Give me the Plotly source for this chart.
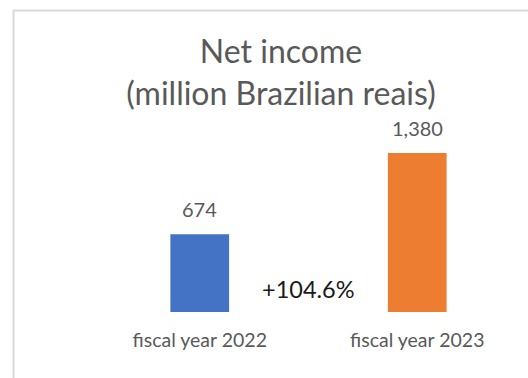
import plotly.graph_objects as go

# Net income by fiscal year (million BRL)
categories = ["fiscal year 2022", "fiscal year 2023"]
net_income = [674, 1380]
bar_colors = ["#4472C4", "#ED7D31"]
growth_label = "+104.6%"
title_lines = ["Net income", "(million Brazilian reais)"]

W, H = 528, 378
M_L, M_R, M_T, M_B = 91, 2, 100, 66
FONT = "Lato"
GREY = "#595959"

fig = go.Figure(
    go.Bar(
        x=categories,
        y=net_income,
        marker=dict(color=bar_colors, line=dict(width=0)),
        hoverinfo="skip",
    )
)

# value labels above each bar
for cat, val in zip(categories, net_income):
    fig.add_annotation(
        x=cat, y=val, xref="x", yref="y",
        text=f"{val:,}", showarrow=False,
        yanchor="bottom", yshift=11,
        font=dict(family=FONT, size=20, color=GREY),
    )

# growth label between the two bars
fig.add_annotation(
    x=0.5, y=0, xref="x", yref="y",
    text=growth_label, showarrow=False,
    yanchor="middle", yshift=23,
    font=dict(family=FONT, size=23.5, color="#1a1a1a"),
)

# light frame around the chart area
def px_x(p):
    return (p - M_L) / (W - M_L - M_R)

def px_y(p):
    return 1 - (p - M_T) / (H - M_T - M_B)

fig.add_shape(
    type="rect", xref="paper", yref="paper",
    x0=px_x(13.5), x1=px_x(W + 20), y0=px_y(H + 20), y1=px_y(10.5),
    line=dict(color="#D9D9D9", width=2), fillcolor="rgba(0,0,0,0)",
    layer="below",
)

plot_h = H - M_T - M_B
bar_px = 159
y_max = max(net_income) * plot_h / bar_px

fig.update_layout(
    width=W, height=H,
    margin=dict(l=M_L, r=M_R, t=M_T, b=M_B),
    paper_bgcolor="white", plot_bgcolor="white",
    bargap=0.73,
    showlegend=False,
    title=dict(
        text="<br>".join(title_lines),
        x=281 / W, xanchor="center",
        y=1 - 63 / H, yanchor="top",
        font=dict(family=FONT, size=32, color=GREY),
    ),
    xaxis=dict(
        showline=False, showgrid=False, zeroline=False, ticks="",
        ticklabelstandoff=14,
        tickfont=dict(family=FONT, size=19.5, color=GREY),
    ),
    yaxis=dict(
        range=[0, y_max], visible=False, showgrid=False, zeroline=False,
    ),
)

fig.write_html("out.html")
